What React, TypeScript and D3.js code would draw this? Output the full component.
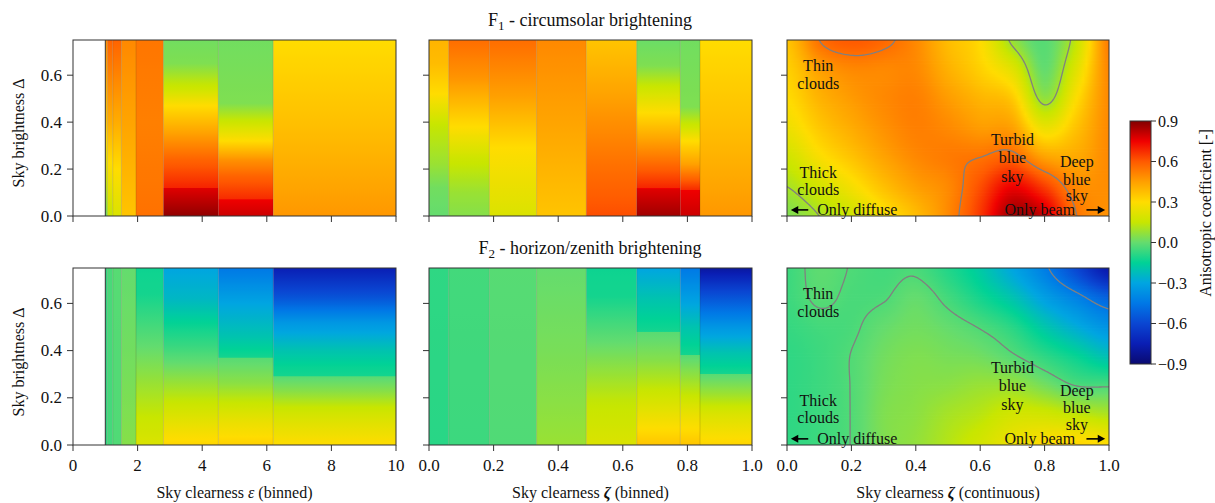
import React from "react";
import * as d3 from "d3";

const W = 1215;
const H = 503;
const FONT = "'Liberation Serif', 'Times New Roman', serif";

// ---------- colour map ----------
const cmapValues = [-0.9, -0.75, -0.6, -0.45, -0.3, -0.15, 0, 0.15, 0.3, 0.45, 0.6, 0.75, 0.9];
const cmapColors = ["#0a0a70", "#0a1eb4", "#0a46d2", "#0078e6", "#00a5e1", "#00d296", "#64dc6e", "#c8e600", "#ffdc00", "#ffa000", "#ff5a00", "#f00000", "#820000"];
const colorbarTicks = [0.9, 0.6, 0.3, 0, -0.3, -0.6, -0.9];

// ---------- binned data ----------
const epsEdges = [1, 1.065, 1.23, 1.5, 1.95, 2.8, 4.5, 6.2, 10];
const zetaEdges = [0, 0.061, 0.187, 0.333, 0.487, 0.643, 0.778, 0.839, 1];

// [Δ, value] knots per bin
const f1EpsProfiles: [number, number][][] = [
  [[0, 0.02], [0.2, 0.2], [0.4, 0.35], [0.75, 0.48]],
  [[0, 0.15], [0.2, 0.28], [0.4, 0.42], [0.75, 0.58]],
  [[0, 0.2], [0.2, 0.3], [0.4, 0.42], [0.75, 0.58]],
  [[0, 0.36], [0.4, 0.44], [0.75, 0.5]],
  [[0, 0.55], [0.4, 0.52], [0.75, 0.54]],
  [[0, 0.88], [0.12, 0.77], [0.121, 0.69], [0.24, 0.58], [0.35, 0.45], [0.47, 0.3], [0.54, 0.17], [0.65, 0.04], [0.75, 0.02]],
  [[0, 0.8], [0.07, 0.75], [0.071, 0.68], [0.17, 0.58], [0.24, 0.48], [0.32, 0.3], [0.4, 0.16], [0.48, 0.04], [0.75, 0.02]],
  [[0, 0.47], [0.2, 0.42], [0.4, 0.37], [0.75, 0.3]],
];
const f1ZetaProfiles: [number, number][][] = [
  [[0, 0.0], [0.12, 0.02], [0.22, 0.08], [0.39, 0.15], [0.52, 0.3], [0.65, 0.38], [0.75, 0.4]],
  [[0, 0.05], [0.1, 0.08], [0.24, 0.16], [0.38, 0.3], [0.58, 0.47], [0.75, 0.56]],
  [[0, 0.2], [0.29, 0.3], [0.51, 0.45], [0.75, 0.56]],
  [[0, 0.36], [0.4, 0.44], [0.75, 0.5]],
  [[0, 0.62], [0.22, 0.55], [0.5, 0.45], [0.75, 0.36]],
  [[0, 0.86], [0.117, 0.77], [0.118, 0.69], [0.21, 0.58], [0.32, 0.45], [0.44, 0.3], [0.54, 0.17], [0.64, 0.04], [0.75, 0.01]],
  [[0, 0.8], [0.11, 0.75], [0.111, 0.68], [0.15, 0.6], [0.22, 0.45], [0.32, 0.3], [0.38, 0.17], [0.465, 0.04], [0.75, 0.02]],
  [[0, 0.47], [0.2, 0.42], [0.4, 0.37], [0.75, 0.3]],
];
const f2EpsProfiles: [number, number][][] = [
  [[0, -0.08], [0.75, -0.08]],
  [[0, -0.05], [0.75, -0.04]],
  [[0, -0.03], [0.75, -0.02]],
  [[0, 0.05], [0.4, 0.02], [0.75, 0.0]],
  [[0, 0.2], [0.12, 0.15], [0.26, 0.08], [0.47, -0.03], [0.64, -0.12], [0.75, -0.13]],
  [[0, 0.32], [0.16, 0.17], [0.26, 0.08], [0.4, -0.05], [0.5, -0.13], [0.62, -0.24], [0.75, -0.3]],
  [[0, 0.33], [0.09, 0.25], [0.19, 0.14], [0.26, 0.06], [0.37, -0.02], [0.371, -0.12], [0.46, -0.2], [0.6, -0.3], [0.75, -0.45]],
  [[0, 0.3], [0.09, 0.22], [0.16, 0.15], [0.23, 0.05], [0.29, -0.02], [0.291, -0.12], [0.33, -0.14], [0.4, -0.2], [0.52, -0.35], [0.62, -0.55], [0.75, -0.75]],
];
const f2ZetaProfiles: [number, number][][] = [
  [[0, -0.09], [0.75, -0.08]],
  [[0, -0.06], [0.75, -0.05]],
  [[0, -0.03], [0.75, -0.02]],
  [[0, 0.08], [0.4, 0.03], [0.75, 0.0]],
  [[0, 0.2], [0.19, 0.14], [0.33, 0.06], [0.5, -0.04], [0.63, -0.12], [0.75, -0.13]],
  [[0, 0.36], [0.12, 0.25], [0.22, 0.16], [0.36, 0.05], [0.48, -0.02], [0.481, -0.12], [0.62, -0.2], [0.75, -0.3]],
  [[0, 0.36], [0.12, 0.25], [0.22, 0.14], [0.38, -0.02], [0.381, -0.12], [0.5, -0.2], [0.65, -0.35], [0.75, -0.45]],
  [[0, 0.32], [0.13, 0.2], [0.22, 0.08], [0.3, -0.02], [0.301, -0.12], [0.39, -0.2], [0.5, -0.35], [0.65, -0.6], [0.75, -0.8]],
];

// ---------- continuous data (rows: Δ grid, columns: ζ grid) ----------
const zetaGrid = [0, 0.1, 0.2, 0.3, 0.4, 0.5, 0.6, 0.7, 0.8, 0.9, 1.0];
const deltaGrid = [0, 0.125, 0.25, 0.375, 0.5, 0.625, 0.75];
const f1Continuous = [
  [0.04, 0.10, 0.17, 0.28, 0.38, 0.50, 0.66, 0.86, 0.80, 0.55, 0.48],
  [0.10, 0.18, 0.27, 0.37, 0.45, 0.50, 0.62, 0.75, 0.65, 0.50, 0.49],
  [0.17, 0.28, 0.36, 0.44, 0.50, 0.53, 0.55, 0.58, 0.45, 0.43, 0.50],
  [0.25, 0.35, 0.42, 0.48, 0.52, 0.50, 0.46, 0.45, 0.25, 0.37, 0.50],
  [0.30, 0.40, 0.46, 0.50, 0.52, 0.46, 0.40, 0.35, 0.07, 0.30, 0.50],
  [0.33, 0.45, 0.50, 0.50, 0.50, 0.41, 0.33, 0.22, 0.00, 0.22, 0.51],
  [0.36, 0.55, 0.60, 0.57, 0.50, 0.38, 0.30, 0.08, -0.02, 0.15, 0.53],
];
const f2Continuous = [
  [-0.08, -0.06, -0.028, 0.04, 0.07, 0.12, 0.18, 0.25, 0.30, 0.32, 0.30],
  [-0.08, -0.06, -0.028, 0.04, 0.06, 0.10, 0.13, 0.18, 0.18, 0.15, 0.12],
  [-0.08, -0.06, -0.028, 0.03, 0.05, 0.06, 0.08, 0.08, 0.03, -0.03, -0.035],
  [-0.08, -0.06, -0.028, 0.02, 0.04, 0.03, 0.02, -0.02, -0.08, -0.14, -0.21],
  [-0.07, -0.05, -0.04, 0.00, 0.02, 0.00, -0.035, -0.09, -0.19, -0.28, -0.36],
  [-0.06, -0.02, -0.04, -0.035, 0.00, -0.05, -0.12, -0.20, -0.32, -0.42, -0.52],
  [-0.06, -0.01, -0.033, -0.05, -0.04, -0.10, -0.18, -0.30, -0.43, -0.60, -0.78],
];
const f1ContourLevels = [0.1, 0.55];
const f2ContourLevels = [-0.03, -0.45];

// ---------- tick labels ----------
const yTicks = [0, 0.2, 0.4, 0.6];
const epsTicks = [0, 2, 4, 6, 8, 10];
const zetaTicks = [0, 0.2, 0.4, 0.6, 0.8, 1.0];

// ---------- layout ----------
const colX: [number, number][] = [[73, 396], [429, 752], [787, 1109]];
const rowY: [number, number][] = [[40, 216], [268, 445]];
const cbar = { x0: 1130, x1: 1151, y0: 121, y1: 364 };

const color = d3
  .scaleLinear<string>()
  .domain(cmapValues)
  .range(cmapColors)
  .interpolate(d3.interpolateRgb)
  .clamp(true);

function interp1(arr: number[], u: number) {
  const n = arr.length;
  let i = Math.floor(u);
  if (i < 0) i = 0;
  if (i > n - 2) i = n - 2;
  const t = u - i;
  const p0 = arr[Math.max(i - 1, 0)];
  const p1 = arr[i];
  const p2 = arr[i + 1];
  const p3 = arr[Math.min(i + 2, n - 1)];
  return 0.5 * (2 * p1 + (-p0 + p2) * t + (2 * p0 - 5 * p1 + 4 * p2 - p3) * t * t + (-p0 + 3 * p1 - 3 * p2 + p3) * t * t * t);
}

function sampleField(rows: number[][], zeta: number, delta: number) {
  const u = (zeta - zetaGrid[0]) / (zetaGrid[1] - zetaGrid[0]);
  const v = (delta - deltaGrid[0]) / (deltaGrid[1] - deltaGrid[0]);
  const col = rows.map((r) => interp1(r, u));
  return interp1(col, v);
}

function profileStops(profile: [number, number][]) {
  const stops: { offset: number; color: string }[] = [];
  for (let k = 0; k < profile.length - 1; k++) {
    const [d0, v0] = profile[k];
    const [d1, v1] = profile[k + 1];
    const nSeg = 8;
    for (let s = 0; s <= nSeg; s++) {
      if (k > 0 && s === 0) continue;
      const t = s / nSeg;
      stops.push({ offset: (d0 + (d1 - d0) * t) / 0.75, color: color(v0 + (v1 - v0) * t) });
    }
  }
  return stops;
}

function contourPath(vals: number[][], level: number, xs: number[], ys: number[]) {
  let d = "";
  const f = (n: number) => n.toFixed(2);
  for (let j = 0; j < ys.length - 1; j++) {
    for (let i = 0; i < xs.length - 1; i++) {
      const a = vals[j][i], b = vals[j][i + 1], c = vals[j + 1][i + 1], e = vals[j + 1][i];
      const pts: [number, number][] = [];
      if (a < level !== b < level) {
        const t = (level - a) / (b - a);
        pts.push([xs[i] + t * (xs[i + 1] - xs[i]), ys[j]]);
      }
      if (b < level !== c < level) {
        const t = (level - b) / (c - b);
        pts.push([xs[i + 1], ys[j] + t * (ys[j + 1] - ys[j])]);
      }
      if (c < level !== e < level) {
        const t = (level - c) / (e - c);
        pts.push([xs[i + 1] + t * (xs[i] - xs[i + 1]), ys[j + 1]]);
      }
      if (e < level !== a < level) {
        const t = (level - e) / (a - e);
        pts.push([xs[i], ys[j + 1] + t * (ys[j] - ys[j + 1])]);
      }
      if (pts.length >= 2) d += `M${f(pts[0][0])},${f(pts[0][1])}L${f(pts[1][0])},${f(pts[1][1])}`;
      if (pts.length === 4) d += `M${f(pts[2][0])},${f(pts[2][1])}L${f(pts[3][0])},${f(pts[3][1])}`;
    }
  }
  return d;
}

type Scale = d3.ScaleLinear<number, number>;

function BinnedPanel({ id, x, y, edges, profiles }: { id: string; x: Scale; y: Scale; edges: number[]; profiles: [number, number][][] }) {
  return (
    <g>
      <defs>
        {profiles.map((p, k) => (
          <linearGradient key={k} id={`${id}-${k}`} x1="0" y1="1" x2="0" y2="0">
            {profileStops(p).map((s, m) => (
              <stop key={m} offset={s.offset} stopColor={s.color} />
            ))}
          </linearGradient>
        ))}
      </defs>
      {profiles.map((p, k) => (
        <rect
          key={k}
          x={x(edges[k])}
          y={y(0.75)}
          width={x(edges[k + 1]) - x(edges[k])}
          height={y(0) - y(0.75)}
          fill={`url(#${id}-${k})`}
        />
      ))}
      {edges.slice(1, -1).map((e, k) => (
        <line key={k} x1={x(e)} x2={x(e)} y1={y(0)} y2={y(0.75)} stroke="rgba(60,40,20,0.22)" strokeWidth={0.8} />
      ))}
    </g>
  );
}

function ContinuousPanel({ id, x, y, rows, levels }: { id: string; x: Scale; y: Scale; rows: number[][]; levels: number[] }) {
  const NY = 120;
  const NX = 100;
  const bands = [];
  for (let j = 0; j < NY; j++) {
    const d0 = (j / NY) * 0.75;
    const d1 = ((j + 1) / NY) * 0.75;
    const dc = (d0 + d1) / 2;
    const stops = [];
    for (let k = 0; k <= NX; k++) {
      const z = k / NX;
      stops.push({ offset: z, color: color(sampleField(rows, z, dc)) });
    }
    bands.push({ d0, d1, stops });
  }
  const CX = 241, CY = 146;
  const zs = d3.range(CX).map((i) => i / (CX - 1));
  const ds = d3.range(CY).map((j) => (j / (CY - 1)) * 0.75);
  const vals = ds.map((dd) => zs.map((z) => sampleField(rows, z, dd)));
  const xs = zs.map((z) => x(z));
  const ys = ds.map((dd) => y(dd));
  return (
    <g>
      <defs>
        {bands.map((b, j) => (
          <linearGradient key={j} id={`${id}-r${j}`} x1="0" y1="0" x2="1" y2="0">
            {b.stops.map((s, m) => (
              <stop key={m} offset={s.offset} stopColor={s.color} />
            ))}
          </linearGradient>
        ))}
        <clipPath id={`${id}-clip`}>
          <rect x={x(0)} y={y(0.75)} width={x(1) - x(0)} height={y(0) - y(0.75)} />
        </clipPath>
      </defs>
      <g clipPath={`url(#${id}-clip)`}>
        {bands.map((b, j) => (
          <rect
            key={j}
            x={x(0)}
            y={y(b.d1) - 0.4}
            width={x(1) - x(0)}
            height={y(b.d0) - y(b.d1) + 0.8}
            fill={`url(#${id}-r${j})`}
          />
        ))}
        {levels.map((lv, k) => (
          <path key={k} d={contourPath(vals, lv, xs, ys)} stroke="#808080" strokeWidth={1.3} fill="none" strokeLinecap="round" />
        ))}
      </g>
    </g>
  );
}

function Frame({ x, y, ticksX, fmtX, showX, showY }: { x: Scale; y: Scale; ticksX: number[]; fmtX: (n: number) => string; showX: boolean; showY: boolean }) {
  const [x0, x1] = x.range();
  const [y0, y1] = y.range();
  return (
    <g fontFamily={FONT} fill="#111">
      <rect x={x0} y={y1} width={x1 - x0} height={y0 - y1} fill="none" stroke="#333" strokeWidth={1} />
      {yTicks.map((t) => (
        <g key={t}>
          <line x1={x0 - 6} x2={x0} y1={y(t)} y2={y(t)} stroke="#333" />
          {showY && (
            <text x={x0 - 11} y={y(t)} textAnchor="end" dominantBaseline="central" fontSize={17}>
              {t.toFixed(1)}
            </text>
          )}
        </g>
      ))}
      {ticksX.map((t) => (
        <g key={t}>
          <line x1={x(t)} x2={x(t)} y1={y0} y2={y0 + 6} stroke="#333" />
          {showX && (
            <text x={x(t)} y={y0 + 26} textAnchor="middle" fontSize={17}>
              {fmtX(t)}
            </text>
          )}
        </g>
      ))}
    </g>
  );
}

const annotationLines: [string, number, number][] = [
  ["Thin", 0.097, 0.64],
  ["clouds", 0.097, 0.565],
  ["Thick", 0.097, 0.1875],
  ["clouds", 0.097, 0.115],
  ["Only diffuse", 0.218, 0.026],
  ["Only beam", 0.785, 0.026],
  ["Turbid", 0.7, 0.328],
  ["blue", 0.7, 0.251],
  ["sky", 0.7, 0.17],
  ["Deep", 0.9, 0.232],
  ["blue", 0.9, 0.157],
  ["sky", 0.9, 0.088],
];

function Annotations({ x, y }: { x: Scale; y: Scale }) {
  const ay = y(0.026);
  return (
    <g fontFamily={FONT} fontSize={16} fill="#111">
      {annotationLines.map(([t, zx, dy], k) => (
        <text key={k} x={x(zx)} y={y(dy)} textAnchor="middle" dominantBaseline="central">
          {t}
        </text>
      ))}
      <line x1={x(0.066)} x2={x(0.02)} y1={ay} y2={ay} stroke="#000" strokeWidth={1.6} />
      <path d={`M${x(0.012)},${ay}L${x(0.035)},${ay - 4}L${x(0.035)},${ay + 4}Z`} fill="#000" />
      <line x1={x(0.93)} x2={x(0.98)} y1={ay} y2={ay} stroke="#000" strokeWidth={1.6} />
      <path d={`M${x(0.988)},${ay}L${x(0.965)},${ay - 4}L${x(0.965)},${ay + 4}Z`} fill="#000" />
    </g>
  );
}

export default function App() {
  const xEps = d3.scaleLinear().domain([0, 10]).range(colX[0]);
  const xZb = d3.scaleLinear().domain([0, 1]).range(colX[1]);
  const xZc = d3.scaleLinear().domain([0, 1]).range(colX[2]);
  const yTop = d3.scaleLinear().domain([0, 0.75]).range([rowY[0][1], rowY[0][0]]);
  const yBot = d3.scaleLinear().domain([0, 0.75]).range([rowY[1][1], rowY[1][0]]);
  const cbScale = d3.scaleLinear().domain([-0.9, 0.9]).range([cbar.y1, cbar.y0]);
  const fmtInt = (n: number) => String(n);
  const fmt1 = (n: number) => n.toFixed(1);
  const cbStops = d3.range(0, 61).map((k) => {
    const v = -0.9 + (k / 60) * 1.8;
    return { offset: k / 60, color: color(v) };
  });
  const fmtCb = (n: number) => (n < 0 ? "\u2212" + Math.abs(n).toFixed(1) : n.toFixed(1));

  return (
    <svg width={W} height={H} style={{ position: "absolute", left: 0, top: 0, background: "#fff" }}>
      <rect x={0} y={0} width={W} height={H} fill="#fff" />
      <text x={590} y={26} textAnchor="middle" fontFamily={FONT} fontSize={18} fill="#111">
        F<tspan dy={4} fontSize={13}>1</tspan>
        <tspan dy={-4}> - circumsolar brightening</tspan>
      </text>
      <text x={590} y={254} textAnchor="middle" fontFamily={FONT} fontSize={18} fill="#111">
        F<tspan dy={4} fontSize={13}>2</tspan>
        <tspan dy={-4}> - horizon/zenith brightening</tspan>
      </text>

      <BinnedPanel id="f1e" x={xEps} y={yTop} edges={epsEdges} profiles={f1EpsProfiles} />
      <line x1={xEps(1)} x2={xEps(1)} y1={yTop(0)} y2={yTop(0.75)} stroke="#333" strokeWidth={1} />
      <BinnedPanel id="f1z" x={xZb} y={yTop} edges={zetaEdges} profiles={f1ZetaProfiles} />
      <ContinuousPanel id="f1c" x={xZc} y={yTop} rows={f1Continuous} levels={f1ContourLevels} />
      <Annotations x={xZc} y={yTop} />
      <Frame x={xEps} y={yTop} ticksX={epsTicks} fmtX={fmtInt} showX={false} showY={true} />
      <Frame x={xZb} y={yTop} ticksX={zetaTicks} fmtX={fmt1} showX={false} showY={false} />
      <Frame x={xZc} y={yTop} ticksX={zetaTicks} fmtX={fmt1} showX={false} showY={false} />

      <BinnedPanel id="f2e" x={xEps} y={yBot} edges={epsEdges} profiles={f2EpsProfiles} />
      <line x1={xEps(1)} x2={xEps(1)} y1={yBot(0)} y2={yBot(0.75)} stroke="#333" strokeWidth={1} />
      <BinnedPanel id="f2z" x={xZb} y={yBot} edges={zetaEdges} profiles={f2ZetaProfiles} />
      <ContinuousPanel id="f2c" x={xZc} y={yBot} rows={f2Continuous} levels={f2ContourLevels} />
      <Annotations x={xZc} y={yBot} />
      <Frame x={xEps} y={yBot} ticksX={epsTicks} fmtX={fmtInt} showX={true} showY={true} />
      <Frame x={xZb} y={yBot} ticksX={zetaTicks} fmtX={fmt1} showX={true} showY={false} />
      <Frame x={xZc} y={yBot} ticksX={zetaTicks} fmtX={fmt1} showX={true} showY={false} />

      {[133, 362].map((cy, k) => (
        <text key={k} transform={`translate(24,${cy}) rotate(-90)`} textAnchor="middle" fontFamily={FONT} fontSize={16} fill="#111">
          Sky brightness Δ
        </text>
      ))}

      <g fontFamily={FONT} fontSize={16} fill="#111" textAnchor="middle">
        <text x={(colX[0][0] + colX[0][1]) / 2} y={498}>
          Sky clearness <tspan fontStyle="italic">ε</tspan> (binned)
        </text>
        <text x={(colX[1][0] + colX[1][1]) / 2} y={498}>
          Sky clearness <tspan fontStyle="italic" fontWeight="bold">ζ</tspan> (binned)
        </text>
        <text x={(colX[2][0] + colX[2][1]) / 2} y={498}>
          Sky clearness <tspan fontStyle="italic" fontWeight="bold">ζ</tspan> (continuous)
        </text>
      </g>

      <defs>
        <linearGradient id="cbgrad" x1="0" y1="1" x2="0" y2="0">
          {cbStops.map((s, k) => (
            <stop key={k} offset={s.offset} stopColor={s.color} />
          ))}
        </linearGradient>
      </defs>
      <rect x={cbar.x0} y={cbar.y0} width={cbar.x1 - cbar.x0} height={cbar.y1 - cbar.y0} fill="url(#cbgrad)" stroke="#333" strokeWidth={1} />
      <g fontFamily={FONT} fontSize={16} fill="#111">
        {colorbarTicks.map((t) => (
          <g key={t}>
            <line x1={cbar.x1} x2={cbar.x1 + 5} y1={cbScale(t)} y2={cbScale(t)} stroke="#333" />
            <text x={cbar.x1 + 7} y={cbScale(t)} dominantBaseline="central">
              {fmtCb(t)}
            </text>
          </g>
        ))}
        <text transform={`translate(1211,213) rotate(-90)`} textAnchor="middle">
          Anisotropic coefficient [-]
        </text>
      </g>
    </svg>
  );
}
